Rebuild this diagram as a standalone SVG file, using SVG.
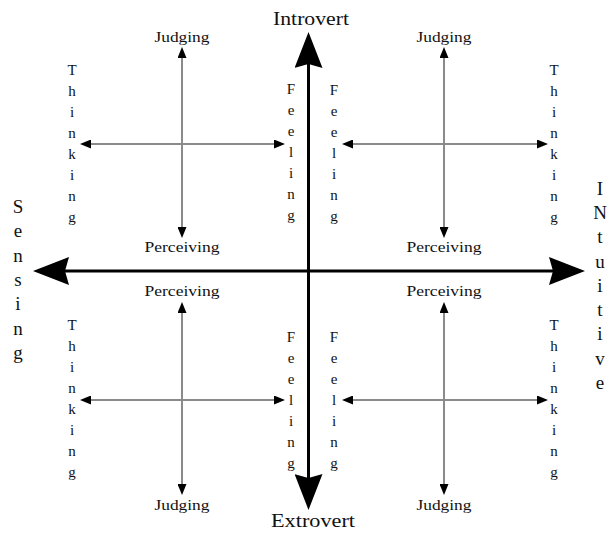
<svg xmlns="http://www.w3.org/2000/svg" width="608" height="533" viewBox="0 0 608 533">
<style>
text{font-family:"Liberation Serif","Times New Roman",serif;fill:#111;text-anchor:middle}
.lbl{font-size:15px}
.ltr{font-size:15px}
.big{font-size:19px}
.axis{stroke:#000;stroke-width:3;fill:none}
.sub{stroke:#8a8a8a;stroke-width:2;fill:none}
</style>
<defs>
<marker id="bigArrow" markerUnits="userSpaceOnUse" markerWidth="36" markerHeight="28" viewBox="0 0 36 28" refX="26" refY="14" orient="auto-start-reverse">
<path d="M0,0 L36,14 L0,28 L4,14 Z" fill="#000"/>
</marker>
<marker id="smallArrow" markerUnits="userSpaceOnUse" markerWidth="11" markerHeight="9" viewBox="0 0 11 9" refX="8" refY="4.5" orient="auto-start-reverse">
<path d="M0,0 L11,4.5 L0,9 Z" fill="#000"/>
</marker>
</defs>
<rect width="608" height="533" fill="#fff"/>
<g id="connectors">
<line class="axis" x1="308.5" y1="42" x2="308.5" y2="500" marker-start="url(#bigArrow)" marker-end="url(#bigArrow)"/>
<line class="axis" x1="43" y1="271" x2="575" y2="271" marker-start="url(#bigArrow)" marker-end="url(#bigArrow)"/>
<line class="sub" x1="182" y1="50" x2="182" y2="235" marker-start="url(#smallArrow)" marker-end="url(#smallArrow)"/>
<line class="sub" x1="83" y1="144" x2="282" y2="144" marker-start="url(#smallArrow)" marker-end="url(#smallArrow)"/>
<line class="sub" x1="444" y1="50" x2="444" y2="235" marker-start="url(#smallArrow)" marker-end="url(#smallArrow)"/>
<line class="sub" x1="345" y1="144" x2="545" y2="144" marker-start="url(#smallArrow)" marker-end="url(#smallArrow)"/>
<line class="sub" x1="182" y1="305" x2="182" y2="492" marker-start="url(#smallArrow)" marker-end="url(#smallArrow)"/>
<line class="sub" x1="83" y1="400" x2="282" y2="400" marker-start="url(#smallArrow)" marker-end="url(#smallArrow)"/>
<line class="sub" x1="444" y1="305" x2="444" y2="492" marker-start="url(#smallArrow)" marker-end="url(#smallArrow)"/>
<line class="sub" x1="345" y1="400" x2="545" y2="400" marker-start="url(#smallArrow)" marker-end="url(#smallArrow)"/>
</g>
<g id="introvert"><text class="big" x="311" y="25" textLength="76" lengthAdjust="spacingAndGlyphs">Introvert</text></g>
<g id="extrovert"><text class="big" x="313" y="527" textLength="84" lengthAdjust="spacingAndGlyphs">Extrovert</text></g>
<g id="sensing"><text class="big">
<tspan x="18" y="213">S</tspan><tspan x="18" y="237">e</tspan><tspan x="18" y="262">n</tspan><tspan x="18" y="286">s</tspan><tspan x="18" y="310">i</tspan><tspan x="18" y="335">n</tspan><tspan x="18" y="359">g</tspan>
</text></g>
<g id="intuitive"><text class="big">
<tspan x="600" y="195">I</tspan><tspan x="600" y="219">N</tspan><tspan x="600" y="243">t</tspan><tspan x="600" y="268">u</tspan><tspan x="600" y="292">i</tspan><tspan x="600" y="316">t</tspan><tspan x="600" y="340">i</tspan><tspan x="600" y="365">v</tspan><tspan x="600" y="389">e</tspan>
</text></g>
<g id="tl-judging"><text class="lbl" x="182" y="42" textLength="55" lengthAdjust="spacingAndGlyphs">Judging</text></g>
<g id="tl-perceiving"><text class="lbl" x="182" y="252" textLength="75" lengthAdjust="spacingAndGlyphs">Perceiving</text></g>
<g id="tr-judging"><text class="lbl" x="444" y="42" textLength="55" lengthAdjust="spacingAndGlyphs">Judging</text></g>
<g id="tr-perceiving"><text class="lbl" x="444" y="252" textLength="75" lengthAdjust="spacingAndGlyphs">Perceiving</text></g>
<g id="bl-perceiving"><text class="lbl" x="182" y="296" textLength="75" lengthAdjust="spacingAndGlyphs">Perceiving</text></g>
<g id="bl-judging"><text class="lbl" x="182" y="510" textLength="55" lengthAdjust="spacingAndGlyphs">Judging</text></g>
<g id="br-perceiving"><text class="lbl" x="444" y="296" textLength="75" lengthAdjust="spacingAndGlyphs">Perceiving</text></g>
<g id="br-judging"><text class="lbl" x="444" y="510" textLength="55" lengthAdjust="spacingAndGlyphs">Judging</text></g>
<g id="tl-thinking"><text class="ltr">
<tspan x="72" y="75">T</tspan><tspan x="72" y="96">h</tspan><tspan x="72" y="117">i</tspan><tspan x="72" y="138">n</tspan><tspan x="72" y="159">k</tspan><tspan x="72" y="180">i</tspan><tspan x="72" y="201">n</tspan><tspan x="72" y="222">g</tspan>
</text></g>
<g id="tl-feeling"><text class="ltr">
<tspan x="291" y="94">F</tspan><tspan x="291" y="115">e</tspan><tspan x="291" y="136">e</tspan><tspan x="291" y="157">l</tspan><tspan x="291" y="178">i</tspan><tspan x="291" y="199">n</tspan><tspan x="291" y="220">g</tspan>
</text></g>
<g id="tr-feeling"><text class="ltr">
<tspan x="334" y="95">F</tspan><tspan x="334" y="116">e</tspan><tspan x="334" y="137">e</tspan><tspan x="334" y="158">l</tspan><tspan x="334" y="179">i</tspan><tspan x="334" y="200">n</tspan><tspan x="334" y="221">g</tspan>
</text></g>
<g id="tr-thinking"><text class="ltr">
<tspan x="554" y="75">T</tspan><tspan x="554" y="96">h</tspan><tspan x="554" y="117">i</tspan><tspan x="554" y="138">n</tspan><tspan x="554" y="159">k</tspan><tspan x="554" y="180">i</tspan><tspan x="554" y="201">n</tspan><tspan x="554" y="222">g</tspan>
</text></g>
<g id="bl-thinking"><text class="ltr">
<tspan x="72" y="330">T</tspan><tspan x="72" y="351">h</tspan><tspan x="72" y="372">i</tspan><tspan x="72" y="393">n</tspan><tspan x="72" y="414">k</tspan><tspan x="72" y="435">i</tspan><tspan x="72" y="456">n</tspan><tspan x="72" y="477">g</tspan>
</text></g>
<g id="bl-feeling"><text class="ltr">
<tspan x="291" y="342">F</tspan><tspan x="291" y="363">e</tspan><tspan x="291" y="384">e</tspan><tspan x="291" y="405">l</tspan><tspan x="291" y="426">i</tspan><tspan x="291" y="447">n</tspan><tspan x="291" y="468">g</tspan>
</text></g>
<g id="br-feeling"><text class="ltr">
<tspan x="334" y="342">F</tspan><tspan x="334" y="363">e</tspan><tspan x="334" y="384">e</tspan><tspan x="334" y="405">l</tspan><tspan x="334" y="426">i</tspan><tspan x="334" y="447">n</tspan><tspan x="334" y="468">g</tspan>
</text></g>
<g id="br-thinking"><text class="ltr">
<tspan x="554" y="330">T</tspan><tspan x="554" y="351">h</tspan><tspan x="554" y="372">i</tspan><tspan x="554" y="393">n</tspan><tspan x="554" y="414">k</tspan><tspan x="554" y="435">i</tspan><tspan x="554" y="456">n</tspan><tspan x="554" y="477">g</tspan>
</text></g>
</svg>
